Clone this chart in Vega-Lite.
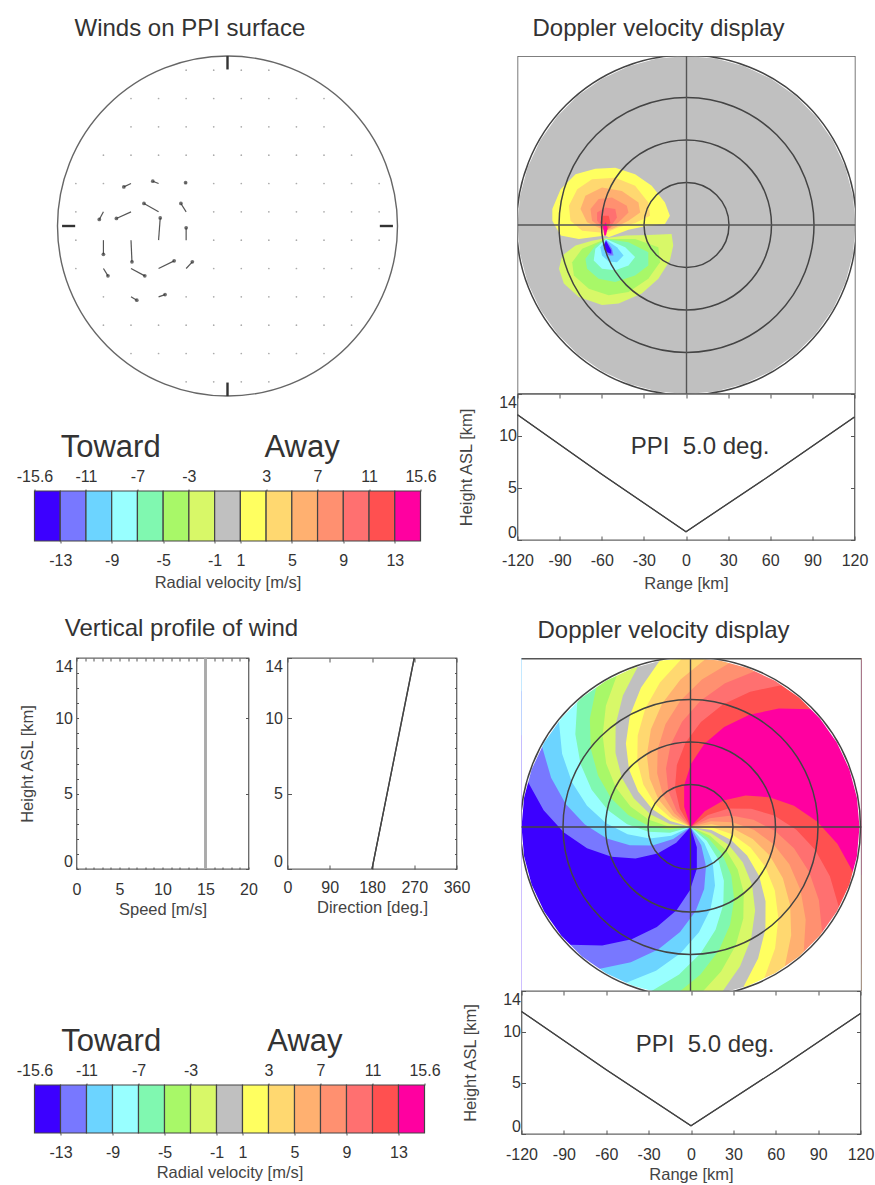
{"$schema":"https://vega.github.io/schema/vega-lite/v6.json","background":"white","padding":{"left":15.5,"top":17,"right":0,"bottom":0},
"config":{"font":"Liberation Sans","view":{"stroke":"#666","strokeWidth":1.3},"title":{"fontSize":24,"fontWeight":"normal","color":"#333","anchor":"start"},"axis":{"grid":false,"domain":false,"labelFontSize":16,"labelColor":"#333","titleFontSize":16.5,"titleFontWeight":"normal","titleColor":"#444","tickColor":"#555","labelOverlap":false,"labelFlush":false}},
"datasets":{
"bands":[{"b":"-15.6","i0":0,"i1":1},{"b":"-13","i0":1,"i1":2},{"b":"-11","i0":2,"i1":3},{"b":"-9","i0":3,"i1":4},{"b":"-7","i0":4,"i1":5},{"b":"-5","i0":5,"i1":6},{"b":"-3","i0":6,"i1":7},{"b":"-1","i0":7,"i1":8},{"b":"1","i0":8,"i1":9},{"b":"3","i0":9,"i1":10},{"b":"5","i0":10,"i1":11},{"b":"7","i0":11,"i1":12},{"b":"9","i0":12,"i1":13},{"b":"11","i0":13,"i1":14},{"b":"13","i0":14,"i1":15}],
"rings":[{"r":30},{"r":60},{"r":90},{"r":120}],
"mask":[{"type":"Feature","properties":{"n":"outside"},"geometry":{"type":"Polygon","coordinates":[[[-200,-200],[-200,200],[200,200],[200,-200],[-200,-200]],[[0,120],[-20.8,118.2],[-41,112.8],[-60,103.9],[-77.1,91.9],[-91.9,77.1],[-103.9,60],[-112.8,41],[-118.2,20.8],[-120,0],[-118.2,-20.8],[-112.8,-41],[-103.9,-60],[-91.9,-77.1],[-77.1,-91.9],[-60,-103.9],[-41,-112.8],[-20.8,-118.2],[0,-120],[20.8,-118.2],[41,-112.8],[60,-103.9],[77.1,-91.9],[91.9,-77.1],[103.9,-60],[112.8,-41],[118.2,-20.8],[120,0],[118.2,20.8],[112.8,41],[103.9,60],[91.9,77.1],[77.1,91.9],[60,103.9],[41,112.8],[20.8,118.2],[0,120]]]}}],
"frameH":[{"type":"Feature","properties":{"n":"frame"},"geometry":{"type":"Polygon","coordinates":[[[-122,-120],[-122,120],[122,120],[122,-120],[-122,-120]],[[-121,-119],[121,-119],[121,119],[-121,119],[-121,-119]]]}}],
"lobes":[
{"type":"Feature","properties":{"b":"-1"},"geometry":{"type":"Polygon","coordinates":[[[-200,-200],[-200,200],[200,200],[200,-200],[-200,-200]]]}},
{"type":"Feature","properties":{"b":"1"},"geometry":{"type":"Polygon","coordinates":[[[-57.6,-7.5],[-76.5,-9.9],[-89.4,-7.5],[-95.3,3.1],[-95.3,11.3],[-89.4,25.4],[-78.8,36],[-64.7,40],[-50.6,40.7],[-36.5,36],[-24.7,27.8],[-15.3,16],[-11.8,6.6],[-15.3,0.7],[-29.4,-0.9],[-41.2,-3.3],[-55.3,-8.7],[-57.6,-7.5]]]}},
{"type":"Feature","properties":{"b":"3"},"geometry":{"type":"Polygon","coordinates":[[[-57.6,-5.6],[-74.1,-4],[-82.4,3.1],[-83.5,13.6],[-77.6,25.4],[-67.1,32.5],[-50.6,33.6],[-36.5,27.8],[-27.1,16],[-25.9,6.6],[-36.5,1.4],[-48.2,-1.6],[-57.6,-5.6]]]}},
{"type":"Feature","properties":{"b":"5"},"geometry":{"type":"Polygon","coordinates":[[[-57.6,-4],[-70.6,1.9],[-75.3,11.3],[-71.8,20.7],[-60,26.6],[-45.9,24.2],[-34.1,16],[-32.9,8.9],[-41.2,3.1],[-52.9,-2.8],[-57.6,-4]]]}},
{"type":"Feature","properties":{"b":"7"},"geometry":{"type":"Polygon","coordinates":[[[-57.6,-4],[-67.1,3.1],[-68.2,11.3],[-62.4,18.4],[-52.9,19.5],[-42.4,13.6],[-41.2,8.9],[-48.2,1.9],[-55.3,-2.8],[-57.6,-4]]]}},
{"type":"Feature","properties":{"b":"9"},"geometry":{"type":"Polygon","coordinates":[[[-57.6,-4],[-63.5,3.1],[-63.5,8.9],[-57.6,12.5],[-50.6,11.3],[-49.4,5.4],[-54.1,-1.6],[-57.6,-4]]]}},
{"type":"Feature","properties":{"b":"11"},"geometry":{"type":"Polygon","coordinates":[[[-58.1,-5.2],[-61.2,1.9],[-60,6.6],[-55.3,6.6],[-54.1,1.9],[-56.5,-4],[-58.1,-5.2]]]}},
{"type":"Feature","properties":{"b":"13"},"geometry":{"type":"Polygon","coordinates":[[[-58.4,-7.5],[-59.3,-0.5],[-57.2,1.9],[-56.2,-2.8],[-57.2,-7.5],[-58.4,-7.5]]]}},
{"type":"Feature","properties":{"b":"-3"},"geometry":{"type":"Polygon","coordinates":[[[-57.6,-9.4],[-43.5,-7.5],[-27.1,-7.1],[-10.6,-6.4],[-9.4,-14.6],[-11.8,-25.2],[-20,-38.1],[-31.8,-48.7],[-48.2,-55.8],[-60,-56.9],[-76.5,-51.1],[-87.1,-41.6],[-90.6,-31.1],[-88.2,-21.6],[-78.8,-14.6],[-67.1,-11.1],[-57.6,-9.4]]]}},
{"type":"Feature","properties":{"b":"-5"},"geometry":{"type":"Polygon","coordinates":[[[-57.6,-9.9],[-36.5,-9.9],[-20,-15.8],[-18.8,-26.4],[-27.1,-38.1],[-41.2,-47.5],[-55.3,-49.9],[-69.4,-45.2],[-80,-35.8],[-81.2,-26.4],[-74.1,-16.9],[-57.6,-9.9]]]}},
{"type":"Feature","properties":{"b":"-7"},"geometry":{"type":"Polygon","coordinates":[[[-57.2,-9.9],[-41.2,-12.2],[-27.1,-19.3],[-27.1,-28.7],[-36.5,-35.8],[-50.6,-40.5],[-62.4,-38.1],[-70.6,-31.1],[-71.8,-24],[-64.7,-14.6],[-57.2,-9.9]]]}},
{"type":"Feature","properties":{"b":"-9"},"geometry":{"type":"Polygon","coordinates":[[[-57.2,-9.9],[-43.5,-15.8],[-36.5,-22.8],[-41.2,-28.7],[-50.6,-32.2],[-60,-31.1],[-65.9,-25.2],[-64.7,-16.9],[-57.2,-9.9]]]}},
{"type":"Feature","properties":{"b":"-11"},"geometry":{"type":"Polygon","coordinates":[[[-57.2,-10.4],[-49.4,-15.8],[-44.7,-21.6],[-49.4,-26.4],[-55.3,-25.9],[-60,-21.6],[-61.2,-15.8],[-57.2,-10.4]]]}},
{"type":"Feature","properties":{"b":"-13"},"geometry":{"type":"Polygon","coordinates":[[[-57.2,-10.4],[-52.9,-16.9],[-51.8,-21.6],[-55.3,-21.6],[-58.8,-16.9],[-57.2,-10.4]]]}},
{"type":"Feature","properties":{"b":"-15.6"},"geometry":{"type":"Polygon","coordinates":[[[-57.2,-11.1],[-53.4,-18.1],[-53.4,-20.5],[-56.5,-19.3],[-58.8,-14.6],[-57.2,-11.1]]]}}
],
"spiral":[
{"type":"Feature","properties":{"b":"-15.6"},"geometry":{"type":"Polygon","coordinates":[[[-200,-200],[-200,200],[200,200],[200,-200],[-200,-200]]]}},
{"type":"Feature","properties":{"b":"-13"},"geometry":{"type":"Polygon","coordinates":[[[0,0],[-10.1,-11.1],[-23.4,-18.8],[-39.1,-22.3],[-56.1,-21.2],[-73.5,-15.1],[-89.9,-3.9],[-104.3,11.9],[-115.6,32.3],[-163.7,45.7],[-200,200],[200,200],[200,-200],[-200,-200],[-121.9,-118.5],[-86,-83.7],[-62.7,-84.2],[-41.8,-79.7],[-23.9,-71.1],[-9.9,-59.2],[-0.4,-45],[4.5,-29.7],[4.5,-14.3],[0,0]]]}},
{"type":"Feature","properties":{"b":"-11"},"geometry":{"type":"Polygon","coordinates":[[[0,0],[-12.3,-8.6],[-27,-13.1],[-43.1,-13],[-59.4,-8.1],[-75,1.7],[-88.5,16.2],[-99,34.9],[-105.5,57.3],[-149.4,81.1],[-200,200],[200,200],[200,-200],[-92.3,-142.7],[-65.2,-100.8],[-42.4,-96.1],[-23,-87],[-7.4,-74.6],[3.6,-59.9],[9.7,-44],[11,-27.9],[7.6,-12.9],[0,0]]]}},
{"type":"Feature","properties":{"b":"-9"},"geometry":{"type":"Polygon","coordinates":[[[0,0],[-13.6,-6.2],[-28.9,-8.1],[-44.7,-5.1],[-59.9,2.6],[-73.5,15.1],[-84.2,31.8],[-91.2,52],[-93.5,75.2],[-132.5,106.5],[-200,200],[200,200],[200,-200],[-65.3,-156.9],[-46.1,-110.8],[-24.5,-102.1],[-7.1,-89.7],[6,-74.8],[14.2,-58.3],[17.4,-41.5],[15.8,-25.5],[9.8,-11.4],[0,0]]]}},
{"type":"Feature","properties":{"b":"-7"},"geometry":{"type":"Polygon","coordinates":[[[0,0],[-14.5,-4],[-29.8,-3.4],[-45,2],[-58.8,12.1],[-70.2,26.5],[-78.1,44.7],[-81.8,65.8],[-80.4,89],[-114,126.1],[200,200],[200,-200],[-39.7,-165.3],[-28,-116.7],[-8.1,-104.7],[7.2,-89.7],[17.8,-72.9],[23.3,-55.3],[23.7,-38.2],[19.6,-22.7],[11.5,-9.7],[0,0]]]}},
{"type":"Feature","properties":{"b":"-5"},"geometry":{"type":"Polygon","coordinates":[[[0,0],[-14.9,-1.9],[-30,0.9],[-44.2,8.5],[-56.4,20.4],[-65.6,36.4],[-70.8,55.5],[-71.5,76.9],[-66.8,99.7],[-94.6,141.3],[200,200],[200,-200],[-15.4,-169.3],[-10.9,-119.5],[7.1,-104.8],[20.1,-87.7],[28.1,-69.5],[31,-51.4],[29,-34.4],[22.7,-19.6],[12.7,-7.9],[0,0]]]}},
{"type":"Feature","properties":{"b":"-3"},"geometry":{"type":"Polygon","coordinates":[[[0,0],[-15,0.2],[-29.6,5.1],[-42.6,14.6],[-53,28.1],[-59.9,45.1],[-62.4,64.9],[-60.1,86.1],[-52.2,108],[-74,153.1],[200,200],[200,-200],[8.3,-169.8],[5.9,-119.9],[21.7,-102.7],[32.1,-84.1],[37.5,-65],[37.8,-46.6],[33.5,-30.1],[25.2,-16.3],[13.7,-6.1],[0,0]]]}},
{"type":"Feature","properties":{"b":"-1"},"geometry":{"type":"Polygon","coordinates":[[[0,0],[-14.8,2.2],[-28.6,9],[-40.2,20.2],[-48.8,34.9],[-53.3,52.8],[-53.2,72.6],[-48,93.4],[-37.3,114.1],[-52.8,161.6],[200,200],[200,-200],[31,-167.2],[21.9,-118],[35.2,-98.9],[43.1,-79],[45.9,-59.3],[43.7,-41.1],[37.2,-25.3],[27.2,-12.7],[14.4,-4.2],[0,0]]]}},
{"type":"Feature","properties":{"b":"1"},"geometry":{"type":"Polygon","coordinates":[[[0,0],[-14.4,4.2],[-27.2,12.7],[-37.2,25.3],[-43.7,41.1],[-45.9,59.3],[-43.1,79],[-35.2,98.9],[-21.9,118],[-31,167.2],[200,200],[200,-200],[52.8,-161.6],[37.3,-114.1],[48,-93.4],[53.2,-72.6],[53.3,-52.8],[48.8,-34.9],[40.2,-20.2],[28.6,-9],[14.8,-2.2],[0,0]]]}},
{"type":"Feature","properties":{"b":"3"},"geometry":{"type":"Polygon","coordinates":[[[0,0],[-13.7,6.1],[-25.2,16.3],[-33.5,30.1],[-37.8,46.6],[-37.5,65],[-32.1,84.1],[-21.7,102.7],[-5.9,119.9],[-8.3,169.8],[200,200],[200,-200],[74,-153.1],[52.2,-108],[60.1,-86.1],[62.4,-64.9],[59.9,-45.1],[53,-28.1],[42.6,-14.6],[29.6,-5.1],[15,-0.2],[0,0]]]}},
{"type":"Feature","properties":{"b":"5"},"geometry":{"type":"Polygon","coordinates":[[[0,0],[-12.7,7.9],[-22.7,19.6],[-29,34.4],[-31,51.4],[-28.1,69.5],[-20.1,87.7],[-7.1,104.8],[10.9,119.5],[15.4,169.3],[200,200],[200,-200],[94.6,-141.3],[66.8,-99.7],[71.5,-76.9],[70.8,-55.5],[65.6,-36.4],[56.4,-20.4],[44.2,-8.5],[30,-0.9],[14.9,1.9],[0,0]]]}},
{"type":"Feature","properties":{"b":"7"},"geometry":{"type":"Polygon","coordinates":[[[0,0],[-11.5,9.7],[-19.6,22.7],[-23.7,38.2],[-23.3,55.3],[-17.8,72.9],[-7.2,89.7],[8.1,104.7],[28,116.7],[39.7,165.3],[200,200],[200,-200],[114,-126.1],[80.4,-89],[81.8,-65.8],[78.1,-44.7],[70.2,-26.5],[58.8,-12.1],[45,-2],[29.8,3.4],[14.5,4],[0,0]]]}},
{"type":"Feature","properties":{"b":"9"},"geometry":{"type":"Polygon","coordinates":[[[0,0],[-9.8,11.4],[-15.8,25.5],[-17.4,41.5],[-14.2,58.3],[-6,74.8],[7.1,89.7],[24.5,102.1],[46.1,110.8],[65.3,156.9],[200,200],[132.5,-106.5],[93.5,-75.2],[91.2,-52],[84.2,-31.8],[73.5,-15.1],[59.9,-2.6],[44.7,5.1],[28.9,8.1],[13.6,6.2],[0,0]]]}},
{"type":"Feature","properties":{"b":"11"},"geometry":{"type":"Polygon","coordinates":[[[0,0],[-7.6,12.9],[-11,27.9],[-9.7,44],[-3.6,59.9],[7.4,74.6],[23,87],[42.4,96.1],[65.2,100.8],[92.3,142.7],[200,200],[149.4,-81.1],[105.5,-57.3],[99,-34.9],[88.5,-16.2],[75,-1.7],[59.4,8.1],[43.1,13],[27,13.1],[12.3,8.6],[0,0]]]}},
{"type":"Feature","properties":{"b":"13"},"geometry":{"type":"Polygon","coordinates":[[[0,0],[-4.5,14.3],[-4.5,29.7],[0.4,45],[9.9,59.2],[23.9,71.1],[41.8,79.7],[62.7,84.2],[86,83.7],[121.9,118.5],[163.7,-45.7],[115.6,-32.3],[104.3,-11.9],[89.9,3.9],[73.5,15.1],[56.1,21.2],[39.1,22.3],[23.4,18.8],[10.1,11.1],[0,0]]]}}
],
"linesF":[{"type":"Feature","properties":{"n":"ew"},"geometry":{"type":"LineString","coordinates":[[-120,0],[120,0]]}},{"type":"Feature","properties":{"n":"ns"},"geometry":{"type":"LineString","coordinates":[[0,120],[0,-120]]}},{"type":"Feature","properties":{"n":"frame"},"geometry":{"type":"LineString","coordinates":[[-120,-120],[-120,120],[120,120],[120,-120],[-120,-120]]}}],
"linesH":[{"type":"Feature","properties":{"n":"ew"},"geometry":{"type":"LineString","coordinates":[[-122,0],[122,0]]}},{"type":"Feature","properties":{"n":"ns"},"geometry":{"type":"LineString","coordinates":[[0,119.8],[0,-119.8]]}}],
"ppi":[{"range":-120,"h":12},{"range":-60,"h":6.3},{"range":0,"h":0.8},{"range":60,"h":6.2},{"range":120,"h":11.8}],
"grid":[{"x":-30,"y":110},{"x":-10,"y":110},{"x":10,"y":110},{"x":30,"y":110},
{"x":-70,"y":90},{"x":-50,"y":90},{"x":-30,"y":90},{"x":-10,"y":90},{"x":10,"y":90},{"x":30,"y":90},{"x":50,"y":90},{"x":70,"y":90},
{"x":-70,"y":70},{"x":-50,"y":70},{"x":-30,"y":70},{"x":-10,"y":70},{"x":10,"y":70},{"x":30,"y":70},{"x":50,"y":70},{"x":70,"y":70},
{"x":-90,"y":50},{"x":-70,"y":50},{"x":-50,"y":50},{"x":-30,"y":50},{"x":-10,"y":50},{"x":10,"y":50},{"x":30,"y":50},{"x":50,"y":50},{"x":70,"y":50},{"x":90,"y":50},
{"x":-110,"y":30},{"x":-90,"y":30},{"x":-10,"y":30},{"x":10,"y":30},{"x":30,"y":30},{"x":50,"y":30},{"x":70,"y":30},{"x":90,"y":30},{"x":110,"y":30},
{"x":-110,"y":10},{"x":-10,"y":10},{"x":10,"y":10},{"x":30,"y":10},{"x":50,"y":10},{"x":70,"y":10},{"x":90,"y":10},{"x":110,"y":10},
{"x":-110,"y":-10},{"x":-10,"y":-10},{"x":10,"y":-10},{"x":30,"y":-10},{"x":50,"y":-10},{"x":70,"y":-10},{"x":90,"y":-10},{"x":110,"y":-10},
{"x":-110,"y":-30},{"x":-10,"y":-30},{"x":10,"y":-30},{"x":30,"y":-30},{"x":50,"y":-30},{"x":70,"y":-30},{"x":90,"y":-30},{"x":110,"y":-30},
{"x":-90,"y":-50},{"x":-30,"y":-50},{"x":-10,"y":-50},{"x":10,"y":-50},{"x":30,"y":-50},{"x":50,"y":-50},{"x":70,"y":-50},{"x":90,"y":-50},
{"x":-90,"y":-70},{"x":-70,"y":-70},{"x":-50,"y":-70},{"x":-30,"y":-70},{"x":-10,"y":-70},{"x":10,"y":-70},{"x":30,"y":-70},{"x":50,"y":-70},{"x":70,"y":-70},{"x":90,"y":-70},
{"x":-70,"y":-90},{"x":-50,"y":-90},{"x":-30,"y":-90},{"x":-10,"y":-90},{"x":10,"y":-90},{"x":30,"y":-90},{"x":50,"y":-90},{"x":70,"y":-90},
{"x":-30,"y":-110},{"x":-10,"y":-110},{"x":10,"y":-110},{"x":30,"y":-110}],
"vectors":[{"x":-70,"y":30,"tx":-75.2,"ty":27.6},{"x":-50,"y":30,"tx":-54.2,"ty":31.6},{"x":-30,"y":30,"tx":-30.4,"ty":30.6},{"x":-30,"y":10,"tx":-33.8,"ty":15.9},{"x":-50,"y":10,"tx":-60.6,"ty":15.9},{"x":-70,"y":10,"tx":-80.6,"ty":5.3},{"x":-90,"y":10,"tx":-93,"ty":4.6},{"x":-50,"y":-10,"tx":-48.8,"ty":5.7},{"x":-30,"y":-10,"tx":-30,"ty":-1.3},{"x":-70,"y":-10,"tx":-69.3,"ty":-25.3},{"x":-90,"y":-10,"tx":-90,"ty":-20},{"x":-70,"y":-30,"tx":-60,"ty":-35.2},{"x":-50,"y":-30,"tx":-38.7,"ty":-24.6},{"x":-30,"y":-30,"tx":-25.5,"ty":-25.3},{"x":-90,"y":-30,"tx":-86.7,"ty":-35.2},{"x":-70,"y":-50,"tx":-65.8,"ty":-52.4},{"x":-50,"y":-50,"tx":-45.3,"ty":-48.4}],
"ticksA":[{"x":0,"y":120,"x2":0,"y2":110.5},{"x":0,"y":-120,"x2":0,"y2":-110.5},{"x":-120,"y":0,"x2":-110.5,"y2":0},{"x":120,"y":0,"x2":110.5,"y2":0}]
},
"hconcat":[
{"vconcat":[{"vconcat":[{"bounds":"flush","spacing":95,"vconcat":[
{"title":{"text":"Winds on PPI surface","dx":40,"offset":12},"width":386,"height":340,"view":{"stroke":null},"layer":[
{"data":{"name":"grid"},"mark":{"type":"point","filled":true,"color":"#888","size":3},"encoding":{"x":{"field":"x","type":"quantitative","scale":{"domain":[-136.2,136.2]},"axis":null},"y":{"field":"y","type":"quantitative","scale":{"domain":[-120,120]},"axis":null}}},
{"data":{"name":"vectors"},"mark":{"type":"rule","color":"#555","strokeWidth":1.2},"encoding":{"x":{"field":"x","type":"quantitative","axis":null},"y":{"field":"y","type":"quantitative","axis":null},"x2":{"field":"tx"},"y2":{"field":"ty"}}},
{"data":{"name":"vectors"},"mark":{"type":"point","filled":true,"color":"#333","size":14},"encoding":{"x":{"field":"tx","type":"quantitative","axis":null},"y":{"field":"ty","type":"quantitative","axis":null}}},
{"data":{"values":[{"r":120}]},"mark":{"type":"point","filled":false,"stroke":"#666","strokeWidth":1.4,"opacity":1},"encoding":{"x":{"datum":0,"type":"quantitative","axis":null},"y":{"datum":0,"type":"quantitative","axis":null},"size":{"field":"r","type":"quantitative","scale":{"type":"pow","exponent":2,"domain":[0,120],"range":[0,115600]},"legend":null}}},
{"data":{"name":"ticksA"},"mark":{"type":"rule","color":"#333","strokeWidth":2.4},"encoding":{"x":{"field":"x","type":"quantitative","axis":null},"y":{"field":"y","type":"quantitative","axis":null},"x2":{"field":"x2"},"y2":{"field":"y2"}}}
]},
{"width":386,"height":50,"view":{"stroke":null},"resolve":{"axis":{"x":"independent"}},"layer":[
{"data":{"name":"bands"},"mark":{"type":"rect","stroke":"#444","strokeWidth":1.2},"encoding":{"x":{"field":"i0","type":"quantitative","scale":{"domain":[0,15],"nice":false},"axis":{"orient":"bottom","values":[1,3,5,7,8,10,12,14],"labelExpr":"['-15.6','-13','-11','-9','-7','-5','-3','-1','1','3','5','7','9','11','13','15.6'][datum.value]","title":"Radial velocity [m/s]","tickSize":2,"labelPadding":9,"titlePadding":6}},"x2":{"field":"i1"},"y":{"datum":0,"type":"quantitative","scale":{"domain":[0,1]},"axis":null},"y2":{"datum":1},"color":{"field":"b","type":"nominal","scale":{"domain":["-15.6","-13","-11","-9","-7","-5","-3","-1","1","3","5","7","9","11","13"],"range":["#3c00ff","#7878ff","#6cd4ff","#98ffff","#80f8b0","#a8f868","#d8f868","#c0c0c0","#ffff60","#ffd870","#ffb070","#ff9070","#ff7070","#ff5050","#ff00a0"]},"legend":null}}},
{"data":{"values":[{"i":0},{"i":15}]},"mark":{"type":"point","opacity":0},"encoding":{"x":{"field":"i","type":"quantitative","scale":{"domain":[0,15],"nice":false},"axis":{"orient":"top","values":[0,2,4,6,9,11,13,15],"labelExpr":"['-15.6','-13','-11','-9','-7','-5','-3','-1','1','3','5','7','9','11','13','15.6'][datum.value]","title":null,"tickSize":2,"labelPadding":5}}}},
{"data":{"values":[{"i":2.96,"y":1.86,"t":"Toward"},{"i":10.4,"y":1.86,"t":"Away"}]},"mark":{"type":"text","fontSize":31,"color":"#333","baseline":"middle"},"encoding":{"x":{"field":"i","type":"quantitative","axis":null},"y":{"field":"y","type":"quantitative","scale":{"domain":[0,1]},"axis":null},"text":{"field":"t"}}}
]}
]},
{"bounds":"flush","spacing":39,"hconcat":[
{"width":3,"height":211,"view":{"stroke":null},"data":{"values":[]},"mark":"rule","encoding":{}},
{"title":{"text":"Vertical profile of wind","dx":45,"offset":12},"width":172,"height":211,"resolve":{"axis":{"x":"independent","y":"independent"}},"data":{"values":[{"speed":15,"h":0},{"speed":15,"h":14}]},"layer":[
{"mark":{"type":"line","color":"#aaa","strokeWidth":2.6},"encoding":{"x":{"field":"speed","type":"quantitative","scale":{"domain":[0,20]},"axis":{"orient":"bottom","title":"Speed [m/s]","values":[0,1,2,3,4,5,6,7,8,9,10,11,12,13,14,15,16,17,18,19,20],"labelExpr":"datum.value%5==0?datum.label:''","tickSize":-2,"labelPadding":14,"titlePadding":4}},"y":{"field":"h","type":"quantitative","scale":{"domain":[0,14]},"axis":{"orient":"left","title":"Height ASL [km]","values":[0,1,2,3,4,5,6,7,8,9,10,11,12,13,14],"labelExpr":"indexof([0,5,10,14],datum.value)>=0?datum.label:''","labelFlush":true,"tickSize":-2,"labelPadding":6,"titlePadding":19}}}},
{"mark":{"type":"line","color":"#aaa","strokeWidth":2.6},"encoding":{"x":{"field":"speed","type":"quantitative","scale":{"domain":[0,20]},"axis":{"orient":"top","title":null,"labels":false,"values":[0,1,2,3,4,5,6,7,8,9,10,11,12,13,14,15,16,17,18,19,20],"tickSize":-3}},"y":{"field":"h","type":"quantitative","scale":{"domain":[0,14]},"axis":{"orient":"right","title":null,"labels":false,"values":[0,5,10,14],"tickSize":-3}}}}
]},
{"width":169,"height":211,"resolve":{"axis":{"x":"independent","y":"independent"}},"data":{"values":[{"dir":180,"h":0},{"dir":270,"h":14}]},"layer":[
{"mark":{"type":"line","color":"#444","strokeWidth":1.3},"encoding":{"x":{"field":"dir","type":"quantitative","scale":{"domain":[0,360]},"axis":{"orient":"bottom","title":"Direction [deg.]","values":[0,90,180,270,360],"tickSize":-4,"labelPadding":14,"titlePadding":4}},"y":{"field":"h","type":"quantitative","scale":{"domain":[0,14]},"axis":{"orient":"left","title":null,"values":[0,5,10,14],"labelFlush":true,"tickSize":-4,"labelPadding":9}}}},
{"mark":{"type":"line","color":"#444","strokeWidth":1.3},"encoding":{"x":{"field":"dir","type":"quantitative","scale":{"domain":[0,360]},"axis":{"orient":"top","title":null,"labels":false,"values":[0,90,180,270,360],"tickSize":-4}},"y":{"field":"h","type":"quantitative","scale":{"domain":[0,14]},"axis":{"orient":"right","title":null,"labels":false,"values":[0,1,2,3,4,5,6,7,8,9,10,11,12,13,14],"tickSize":-2}}}}
]}
]}
],"spacing":25},
{"width":390,"height":48,"view":{"stroke":null},"resolve":{"axis":{"x":"independent"}},"layer":[
{"data":{"name":"bands"},"mark":{"type":"rect","stroke":"#444","strokeWidth":1.2},"encoding":{"x":{"field":"i0","type":"quantitative","scale":{"domain":[0,15],"nice":false},"axis":{"orient":"bottom","values":[1,3,5,7,8,10,12,14],"labelExpr":"['-15.6','-13','-11','-9','-7','-5','-3','-1','1','3','5','7','9','11','13','15.6'][datum.value]","title":"Radial velocity [m/s]","tickSize":2,"labelPadding":9,"titlePadding":4}},"x2":{"field":"i1"},"y":{"datum":0,"type":"quantitative","scale":{"domain":[0,1]},"axis":null},"y2":{"datum":1},"color":{"field":"b","type":"nominal","scale":{"domain":["-15.6","-13","-11","-9","-7","-5","-3","-1","1","3","5","7","9","11","13"],"range":["#3c00ff","#7878ff","#6cd4ff","#98ffff","#80f8b0","#a8f868","#d8f868","#c0c0c0","#ffff60","#ffd870","#ffb070","#ff9070","#ff7070","#ff5050","#ff00a0"]},"legend":null}}},
{"data":{"values":[{"i":0},{"i":15}]},"mark":{"type":"point","opacity":0},"encoding":{"x":{"field":"i","type":"quantitative","scale":{"domain":[0,15],"nice":false},"axis":{"orient":"top","values":[0,2,4,6,9,11,13,15],"labelExpr":"['-15.6','-13','-11','-9','-7','-5','-3','-1','1','3','5','7','9','11','13','15.6'][datum.value]","title":null,"tickSize":2,"labelPadding":5}}}},
{"data":{"values":[{"i":2.95,"y":1.9,"t":"Toward"},{"i":10.4,"y":1.9,"t":"Away"}]},"mark":{"type":"text","fontSize":31,"color":"#333","baseline":"middle"},"encoding":{"x":{"field":"i","type":"quantitative","axis":null},"y":{"field":"y","type":"quantitative","scale":{"domain":[0,1]},"axis":null},"text":{"field":"t"}}}
]}
],"spacing":106},
{"vconcat":[{"bounds":"flush","spacing":0,"vconcat":[
{"title":{"text":"Doppler velocity display","dx":15,"offset":15},"width":338,"height":338,"projection":{"type":"identity","reflectY":true,"scale":1.408,"translate":[169,169]},"layer":[
{"data":{"name":"lobes"},"mark":{"type":"geoshape","clip":true},"encoding":{"color":{"field":"properties.b","type":"nominal","scale":{"domain":["-15.6","-13","-11","-9","-7","-5","-3","-1","1","3","5","7","9","11","13"],"range":["#3c00ff","#7878ff","#6cd4ff","#98ffff","#80f8b0","#a8f868","#d8f868","#c0c0c0","#ffff60","#ffd870","#ffb070","#ff9070","#ff7070","#ff5050","#ff00a0"]},"legend":null}}},
{"data":{"name":"mask"},"mark":{"type":"geoshape","clip":true,"fill":"white"},"encoding":{}},
{"data":{"name":"rings"},"mark":{"type":"point","filled":false,"stroke":"#444","strokeWidth":1.5,"opacity":1},"encoding":{"longitude":{"datum":0},"latitude":{"datum":0},"size":{"field":"r","type":"quantitative","scale":{"type":"pow","exponent":2,"domain":[0,120],"range":[0,114244]},"legend":null}}},
{"data":{"name":"linesF"},"mark":{"type":"geoshape","filled":false,"stroke":"#555","strokeWidth":1.4},"encoding":{}}
]},
{"width":337,"height":146,"resolve":{"axis":{"x":"independent","y":"independent"}},"layer":[
{"data":{"name":"ppi"},"mark":{"type":"line","color":"#444","strokeWidth":1.2},"encoding":{"x":{"field":"range","type":"quantitative","scale":{"domain":[-120,120]},"axis":{"orient":"bottom","title":"Range [km]","values":[-120,-90,-60,-30,0,30,60,90,120],"labelExpr":"''+datum.value","tickSize":-4,"labelPadding":16,"titlePadding":7}},"y":{"field":"h","type":"quantitative","scale":{"domain":[0,14]},"axis":{"orient":"left","title":"Height ASL [km]","values":[0,5,10,14],"labelFlush":true,"tickSize":-4,"labelPadding":5,"titlePadding":24}}}},
{"data":{"name":"ppi"},"mark":{"type":"line","color":"#444","strokeWidth":1.2},"encoding":{"x":{"field":"range","type":"quantitative","scale":{"domain":[-120,120]},"axis":{"orient":"top","title":null,"labels":false,"values":[-120,-90,-60,-30,0,30,60,90,120],"tickSize":-4}},"y":{"field":"h","type":"quantitative","scale":{"domain":[0,14]},"axis":{"orient":"right","title":null,"labels":false,"values":[0,5,10,14],"tickSize":-4}}}},
{"data":{"values":[{"x":10,"y":8.9,"t":"PPI\u00a0\u00a05.0 deg."}]},"mark":{"type":"text","fontSize":24,"color":"#333","baseline":"middle"},"encoding":{"x":{"field":"x","type":"quantitative","scale":{"domain":[-120,120]},"axis":null},"y":{"field":"y","type":"quantitative","scale":{"domain":[0,14]},"axis":null},"text":{"field":"t"}}}
]}
]},
{"bounds":"flush","spacing":3,"hconcat":[
{"width":1,"height":333,"view":{"stroke":null},"data":{"values":[]},"mark":"rule","encoding":{}},
{"bounds":"flush","spacing":0,"vconcat":[
{"title":{"text":"Doppler velocity display","dx":16,"offset":15},"width":340,"height":333,"projection":{"type":"identity","reflectY":true,"scale":1.3875,"translate":[170,166.5]},"layer":[
{"data":{"name":"spiral"},"mark":{"type":"geoshape","clip":true},"encoding":{"color":{"field":"properties.b","type":"nominal","scale":{"domain":["-15.6","-13","-11","-9","-7","-5","-3","-1","1","3","5","7","9","11","13"],"range":["#3c00ff","#7878ff","#6cd4ff","#98ffff","#80f8b0","#a8f868","#d8f868","#c0c0c0","#ffff60","#ffd870","#ffb070","#ff9070","#ff7070","#ff5050","#ff00a0"]},"legend":null}}},
{"data":{"name":"mask"},"mark":{"type":"geoshape","clip":true,"fill":"white"},"encoding":{}},
{"data":{"name":"rings"},"mark":{"type":"point","filled":false,"stroke":"#444","strokeWidth":1.5,"opacity":1},"encoding":{"longitude":{"datum":0},"latitude":{"datum":0},"size":{"field":"r","type":"quantitative","scale":{"type":"pow","exponent":2,"domain":[0,120],"range":[0,110889]},"legend":null}}},
{"data":{"name":"linesH"},"mark":{"type":"geoshape","filled":false,"stroke":"#444","strokeWidth":1.4},"encoding":{}},
{"data":{"name":"frameH"},"mark":{"type":"geoshape","fill":"#555"},"encoding":{}}
]},
{"width":339,"height":143,"resolve":{"axis":{"x":"independent","y":"independent"}},"layer":[
{"data":{"name":"ppi"},"mark":{"type":"line","color":"#444","strokeWidth":1.2},"encoding":{"x":{"field":"range","type":"quantitative","scale":{"domain":[-120,120]},"axis":{"orient":"bottom","title":"Range [km]","values":[-120,-90,-60,-30,0,30,60,90,120],"labelExpr":"''+datum.value","tickSize":-4,"labelPadding":16,"titlePadding":4}},"y":{"field":"h","type":"quantitative","scale":{"domain":[0,14]},"axis":{"orient":"left","title":"Height ASL [km]","values":[0,5,10,14],"labelFlush":true,"tickSize":-4,"labelPadding":5,"titlePadding":24}}}},
{"data":{"name":"ppi"},"mark":{"type":"line","color":"#444","strokeWidth":1.2},"encoding":{"x":{"field":"range","type":"quantitative","scale":{"domain":[-120,120]},"axis":{"orient":"top","title":null,"labels":false,"values":[-120,-90,-60,-30,0,30,60,90,120],"tickSize":-4}},"y":{"field":"h","type":"quantitative","scale":{"domain":[0,14]},"axis":{"orient":"right","title":null,"labels":false,"values":[0,5,10,14],"tickSize":-4}}}},
{"data":{"values":[{"x":10,"y":8.7,"t":"PPI\u00a0\u00a05.0 deg."}]},"mark":{"type":"text","fontSize":24,"color":"#333","baseline":"middle"},"encoding":{"x":{"field":"x","type":"quantitative","scale":{"domain":[-120,120]},"axis":null},"y":{"field":"y","type":"quantitative","scale":{"domain":[0,14]},"axis":null},"text":{"field":"t"}}}
]}
]}
]}
],"spacing":26}
],"spacing":-13}
